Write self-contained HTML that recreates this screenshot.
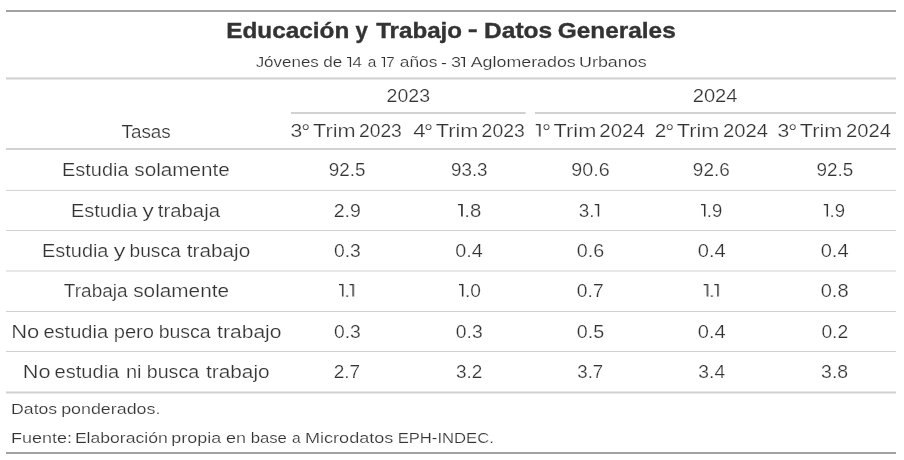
<!DOCTYPE html>
<html lang="es"><head><meta charset="utf-8"><title>Educación y Trabajo - Datos Generales</title>
<style>
html,body{margin:0;padding:0;background:#fff;}
body{width:904px;height:460px;position:relative;overflow:hidden;font-family:"Liberation Sans",sans-serif;color:#333333;}
.t{will-change:transform;position:absolute;left:0;white-space:nowrap;transform-origin:0 0;line-height:1;font-size:18px;-webkit-text-stroke:0.22px #fff;}
.o{display:inline-block;width:.255em;height:.7em;margin-right:.075em;fill:currentColor;vertical-align:baseline;position:static;}
.b{font-weight:700;font-size:21.5px;color:#333333;-webkit-text-stroke:0.35px #333333;}
.s{font-size:15px;-webkit-text-stroke-width:0.18px;}
.n{font-size:14.5px;-webkit-text-stroke-width:0.18px;}
.d{font-size:21px;}
svg{position:absolute;left:0;top:0;}
</style></head><body>
<svg width="904" height="460" viewBox="0 0 904 460">
<rect x="6" y="10" width="890" height="2" fill="#A2A2A2"/>
<rect x="6" y="77.4" width="890" height="2.1" fill="#D1D1D1"/>
<rect x="291" y="112" width="234.6" height="2" fill="#D1D1D1"/>
<rect x="535" y="112" width="361" height="2" fill="#D1D1D1"/>
<rect x="6" y="148" width="890" height="2" fill="#D1D1D1"/>
<rect x="6" y="189.9" width="890" height="1" fill="#D1D1D1"/>
<rect x="6" y="230" width="890" height="1" fill="#D1D1D1"/>
<rect x="6" y="270.5" width="890" height="1" fill="#D1D1D1"/>
<rect x="6" y="311" width="890" height="1" fill="#D1D1D1"/>
<rect x="6" y="351" width="890" height="1" fill="#D1D1D1"/>
<rect x="6" y="391.5" width="890" height="2" fill="#D1D1D1"/>
<rect x="6" y="452" width="890" height="2" fill="#A2A2A2"/>
</svg>
<div class="t b" style="top:21px;transform:translateX(226.29px) scaleX(1.1313)">Educación</div>
<div class="t b" style="top:21px;transform:translateX(355.40px) scaleX(1.0333)">y</div>
<div class="t b" style="top:21px;transform:translateX(376.20px) scaleX(1.1221)">Trabajo</div>
<div class="t b" style="top:21px;transform:translateX(484.07px) scaleX(1.1411)">Datos</div>
<div class="t b" style="top:21px;transform:translateX(557.85px) scaleX(1.1337)">Generales</div>
<div class="t b" style="top:19px;transform:translateX(467.86px) scaleX(1.3913)">-</div>
<div class="t s" style="top:54px;transform:translateX(255.63px) scaleX(1.1306)">Jóvenes</div>
<div class="t s" style="top:54px;transform:translateX(323.25px) scaleX(1.1400)">de</div>
<div class="t s" style="top:54px;transform:translateX(346.90px) scaleX(1.1294)"><svg class="o" viewBox="0 0 255 700"><path d="M0 0H255V700H172V72H0Z"/></svg>4</div>
<div class="t s" style="top:54px;transform:translateX(367.63px) scaleX(1.0267)">a</div>
<div class="t s" style="top:54px;transform:translateX(381.20px) scaleX(1.0080)"><svg class="o" viewBox="0 0 255 700"><path d="M0 0H255V700H172V72H0Z"/></svg>7</div>
<div class="t s" style="top:54px;transform:translateX(399.73px) scaleX(1.1581)">años</div>
<div class="t s" style="top:54px;transform:translateX(450.90px) scaleX(1.2000)">3<svg class="o" viewBox="0 0 255 700"><path d="M0 0H255V700H172V72H0Z"/></svg></div>
<div class="t s" style="top:54px;transform:translateX(470.70px) scaleX(1.1886)">Aglomerados</div>
<div class="t s" style="top:54px;transform:translateX(579.01px) scaleX(1.1927)">Urbanos</div>
<div class="t s" style="top:55px;transform:translateX(441.12px) scaleX(1.1714)">-</div>
<div class="t" style="top:87px;transform:translateX(386.62px) scaleX(1.0824)">2023</div>
<div class="t" style="top:87px;transform:translateX(692.68px) scaleX(1.1195)">2024</div>
<div class="t" style="top:123px;transform:translateX(121.48px) scaleX(1.0492)">Tasas</div>
<div class="t" style="top:122px;transform:translateX(290.62px) scaleX(1.1750)">3</div>
<div class="t d" style="top:121px;transform:translateX(301.29px) scaleX(1.0727)">°</div>
<div class="t" style="top:122px;transform:translateX(313.10px) scaleX(1.2030)">Trim</div>
<div class="t" style="top:122px;transform:translateX(358.93px) scaleX(1.0719)">2023</div>
<div class="t" style="top:122px;transform:translateX(413.18px) scaleX(1.2343)">4</div>
<div class="t d" style="top:121px;transform:translateX(423.99px) scaleX(1.0727)">°</div>
<div class="t" style="top:122px;transform:translateX(435.70px) scaleX(1.2060)">Trim</div>
<div class="t" style="top:122px;transform:translateX(481.62px) scaleX(1.0771)">2023</div>
<div class="t" style="top:122px;transform:translateX(535.80px) scaleX(1.0222)"><svg class="o" viewBox="0 0 255 700"><path d="M0 0H255V700H172V72H0Z"/></svg></div>
<div class="t d" style="top:121px;transform:translateX(541.89px) scaleX(1.0727)">°</div>
<div class="t" style="top:122px;transform:translateX(553.60px) scaleX(1.2090)">Trim</div>
<div class="t" style="top:122px;transform:translateX(599.37px) scaleX(1.1325)">2024</div>
<div class="t" style="top:122px;transform:translateX(654.65px) scaleX(1.1500)">2</div>
<div class="t d" style="top:121px;transform:translateX(665.29px) scaleX(1.0727)">°</div>
<div class="t" style="top:122px;transform:translateX(676.80px) scaleX(1.2060)">Trim</div>
<div class="t" style="top:122px;transform:translateX(722.88px) scaleX(1.1247)">2024</div>
<div class="t" style="top:122px;transform:translateX(777.62px) scaleX(1.1750)">3</div>
<div class="t d" style="top:121px;transform:translateX(788.29px) scaleX(1.0727)">°</div>
<div class="t" style="top:122px;transform:translateX(799.80px) scaleX(1.2060)">Trim</div>
<div class="t" style="top:122px;transform:translateX(845.88px) scaleX(1.1247)">2024</div>
<div class="t" style="top:161px;transform:translateX(62.04px) scaleX(1.1077)">Estudia</div>
<div class="t" style="top:161px;transform:translateX(134.34px) scaleX(1.1485)">solamente</div>
<div class="t" style="top:202px;transform:translateX(70.94px) scaleX(1.1077)">Estudia</div>
<div class="t" style="top:202px;transform:translateX(142.59px) scaleX(1.2471)">y</div>
<div class="t" style="top:202px;transform:translateX(157.84px) scaleX(1.1284)">trabaja</div>
<div class="t" style="top:242px;transform:translateX(42.04px) scaleX(1.1060)">Estudia</div>
<div class="t" style="top:242px;transform:translateX(113.78px) scaleX(1.2941)">y</div>
<div class="t" style="top:242px;transform:translateX(129.47px) scaleX(1.0652)">busca</div>
<div class="t" style="top:242px;transform:translateX(186.72px) scaleX(1.1533)">trabajo</div>
<div class="t" style="top:282px;transform:translateX(63.87px) scaleX(1.0544)">Trabaja</div>
<div class="t" style="top:282px;transform:translateX(133.23px) scaleX(1.1534)">solamente</div>
<div class="t" style="top:323px;transform:translateX(11.27px) scaleX(1.2195)">No</div>
<div class="t" style="top:323px;transform:translateX(43.39px) scaleX(1.1140)">estudia</div>
<div class="t" style="top:323px;transform:translateX(113.70px) scaleX(1.1200)">pero</div>
<div class="t" style="top:323px;transform:translateX(158.64px) scaleX(1.0845)">busca</div>
<div class="t" style="top:323px;transform:translateX(217.11px) scaleX(1.1701)">trabajo</div>
<div class="t" style="top:363px;transform:translateX(22.79px) scaleX(1.2049)">No</div>
<div class="t" style="top:363px;transform:translateX(54.59px) scaleX(1.1140)">estudia</div>
<div class="t" style="top:363px;transform:translateX(125.91px) scaleX(1.1130)">ni</div>
<div class="t" style="top:363px;transform:translateX(146.74px) scaleX(1.0909)">busca</div>
<div class="t" style="top:363px;transform:translateX(205.92px) scaleX(1.1570)">trabajo</div>
<div class="t" style="top:161px;transform:translateX(328.85px) scaleX(1.0455)">92.5</div>
<div class="t" style="top:161px;transform:translateX(450.95px) scaleX(1.0455)">93.3</div>
<div class="t" style="top:161px;transform:translateX(571.30px) scaleX(1.0970)">90.6</div>
<div class="t" style="top:161px;transform:translateX(692.85px) scaleX(1.0515)">92.6</div>
<div class="t" style="top:161px;transform:translateX(816.55px) scaleX(1.0485)">92.5</div>
<div class="t" style="top:202px;transform:translateX(333.72px) scaleX(1.0826)">2.9</div>
<div class="t" style="top:202px;transform:translateX(457.60px) scaleX(1.1300)"><svg class="o" viewBox="0 0 255 700"><path d="M0 0H255V700H172V72H0Z"/></svg>.8</div>
<div class="t" style="top:202px;transform:translateX(578.75px) scaleX(1.0486)">3.<svg class="o" viewBox="0 0 255 700"><path d="M0 0H255V700H172V72H0Z"/></svg></div>
<div class="t" style="top:202px;transform:translateX(700.80px) scaleX(1.0250)"><svg class="o" viewBox="0 0 255 700"><path d="M0 0H255V700H172V72H0Z"/></svg>.9</div>
<div class="t" style="top:202px;transform:translateX(823.40px) scaleX(1.0300)"><svg class="o" viewBox="0 0 255 700"><path d="M0 0H255V700H172V72H0Z"/></svg>.9</div>
<div class="t" style="top:242px;transform:translateX(334.00px) scaleX(1.0710)">0.3</div>
<div class="t" style="top:242px;transform:translateX(455.17px) scaleX(1.1021)">0.4</div>
<div class="t" style="top:242px;transform:translateX(576.78px) scaleX(1.0968)">0.6</div>
<div class="t" style="top:242px;transform:translateX(697.86px) scaleX(1.1149)">0.4</div>
<div class="t" style="top:242px;transform:translateX(820.66px) scaleX(1.1149)">0.4</div>
<div class="t" style="top:282px;transform:translateX(339.00px) scaleX(0.9548)"><svg class="o" viewBox="0 0 255 700"><path d="M0 0H255V700H172V72H0Z"/></svg>.<svg class="o" viewBox="0 0 255 700"><path d="M0 0H255V700H172V72H0Z"/></svg></div>
<div class="t" style="top:282px;transform:translateX(458.60px) scaleX(1.0650)"><svg class="o" viewBox="0 0 255 700"><path d="M0 0H255V700H172V72H0Z"/></svg>.0</div>
<div class="t" style="top:282px;transform:translateX(576.80px) scaleX(1.0710)">0.7</div>
<div class="t" style="top:282px;transform:translateX(703.70px) scaleX(0.9613)"><svg class="o" viewBox="0 0 255 700"><path d="M0 0H255V700H172V72H0Z"/></svg>.<svg class="o" viewBox="0 0 255 700"><path d="M0 0H255V700H172V72H0Z"/></svg></div>
<div class="t" style="top:282px;transform:translateX(820.66px) scaleX(1.1140)">0.8</div>
<div class="t" style="top:323px;transform:translateX(334.00px) scaleX(1.0710)">0.3</div>
<div class="t" style="top:323px;transform:translateX(455.80px) scaleX(1.0710)">0.3</div>
<div class="t" style="top:323px;transform:translateX(576.78px) scaleX(1.0968)">0.5</div>
<div class="t" style="top:323px;transform:translateX(697.86px) scaleX(1.1149)">0.4</div>
<div class="t" style="top:323px;transform:translateX(821.40px) scaleX(1.0710)">0.2</div>
<div class="t" style="top:363px;transform:translateX(333.74px) scaleX(1.0565)">2.7</div>
<div class="t" style="top:363px;transform:translateX(455.95px) scaleX(1.0522)">3.2</div>
<div class="t" style="top:363px;transform:translateX(577.27px) scaleX(1.0348)">3.7</div>
<div class="t" style="top:363px;transform:translateX(698.33px) scaleX(1.0710)">3.4</div>
<div class="t" style="top:363px;transform:translateX(821.12px) scaleX(1.0826)">3.8</div>
<div class="t n" style="top:402px;transform:translateX(11.08px) scaleX(1.2167)">Datos</div>
<div class="t n" style="top:402px;transform:translateX(61.17px) scaleX(1.2307)">ponderados.</div>
<div class="t n" style="top:431px;transform:translateX(11.05px) scaleX(1.2387)">Fuente:</div>
<div class="t n" style="top:431px;transform:translateX(74.88px) scaleX(1.2121)">Elaboración</div>
<div class="t n" style="top:431px;transform:translateX(171.37px) scaleX(1.2331)">propia</div>
<div class="t n" style="top:431px;transform:translateX(226.07px) scaleX(1.2421)">en</div>
<div class="t n" style="top:431px;transform:translateX(250.65px) scaleX(1.1529)">base</div>
<div class="t n" style="top:431px;transform:translateX(291.89px) scaleX(1.0759)">a</div>
<div class="t n" style="top:431px;transform:translateX(305.04px) scaleX(1.2449)">Microdatos</div>
<div class="t n" style="top:431px;transform:translateX(397.67px) scaleX(1.1469)">EPH-INDEC.</div>
</body></html>
